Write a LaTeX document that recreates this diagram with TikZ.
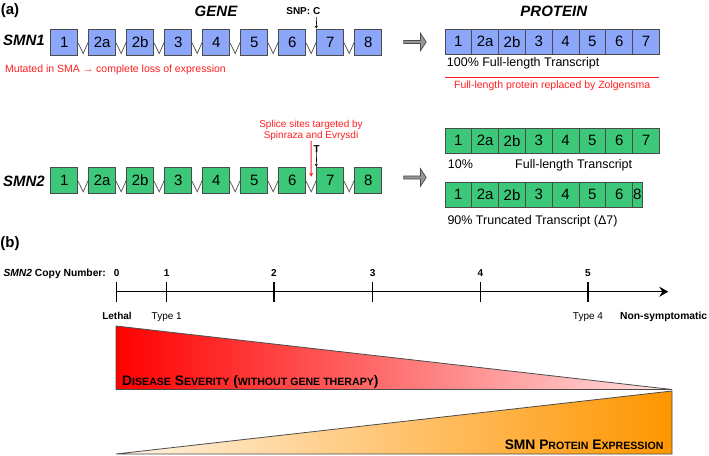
\documentclass[tikz,border=0pt]{standalone}
\usepackage{fontspec}
\setmainfont{Liberation Sans}
\usepackage{xcolor}
\definecolor{exonblue}{RGB}{140,166,250}
\definecolor{exongreen}{RGB}{60,200,120}
\definecolor{edgegray}{RGB}{75,75,75}
\definecolor{notered}{RGB}{255,30,30}
\definecolor{arrowgray}{RGB}{150,150,150}
\definecolor{sevred}{RGB}{255,0,0}
\definecolor{sevpale}{RGB}{255,228,228}
\definecolor{exporange}{RGB}{255,150,0}
\definecolor{exppale}{RGB}{255,243,228}
\usepackage{tikz}
\usetikzlibrary{shapes,arrows,arrows.meta,positioning,calc}
\newcommand{\fakesc}[2]{{\fontsize{13.8}{15}\selectfont #1}{\fontsize{10.6}{12}\selectfont #2}}

\begin{document}
\begin{tikzpicture}[
    x=1pt, y=-1pt,
    exon/.style={rectangle, draw=edgegray, line width=0.8pt, minimum width=27pt, minimum height=26pt, inner sep=0pt, font=\fontsize{15}{18}\selectfont},
    prot/.style={rectangle, draw=edgegray, line width=0.8pt, minimum width=26.8pt, minimum height=25.5pt, inner sep=0pt, outer sep=0pt, font=\fontsize{15}{18}\selectfont},
    intron/.style={draw=edgegray, line width=0.7pt},
    blockarrow/.style={single arrow, draw=edgegray, fill=arrowgray, line width=0.7pt, minimum width=17.7pt, minimum height=22.4pt, single arrow head extend=1.7pt, single arrow tip angle=114, inner sep=0pt},
    genelabel/.style={font=\bfseries\itshape\fontsize{15}{18}\selectfont},
    note/.style={text=notered, font=\fontsize{10.5}{12}\selectfont, inner sep=0pt},
    caption/.style={font=\fontsize{12.5}{15}\selectfont, inner sep=0pt, anchor=base west},
    pin/.style={-{Stealth[length=3pt,width=3pt]}, line width=0.6pt},
    redpin/.style={-{Stealth[length=4pt,width=4pt]}, line width=1pt, draw=notered},
    axis/.style={-{Stealth[length=9pt,width=10pt,inset=3pt]}, line width=1.3pt},
    axistick/.style={line width=1.3pt},
    cnum/.style={font=\bfseries\fontsize{10}{12}\selectfont, inner sep=0pt, anchor=base},
    scale label/.style={font=\fontsize{10}{12}\selectfont, inner sep=0pt, anchor=base},
    tri/.style={draw=edgegray, line width=0.8pt}
]
\useasboundingbox (0,0) rectangle (709,455);

% (a) gene and protein
\node[font=\bfseries\fontsize{15}{18}\selectfont] (tagA) at (10,11) {(a)};
\node[genelabel] (gene) at (216,11) {GENE};
\node[genelabel] (protein) at (553.8,11) {PROTEIN};

\node[genelabel] (smn1) at (24,40) {SMN1};
\node[genelabel] (smn2) at (24,181) {SMN2};

% exons a1..a9 / b1..b9 (exon 7 is number 8)
\foreach \lbl [count=\i] in {1,2a,2b,3,4,5,6,7,8} {
  \node[exon, fill=exonblue] (a\i) at ({64.2+38*(\i-1)}, 42) {\lbl};
  \node[exon, fill=exongreen] (b\i) at ({64.2+38*(\i-1)}, 180.3) {\lbl};
}
\foreach \i [count=\j from 2] in {1,...,8} {
  \draw[intron] ($(a\i.east)+(0,1)$) -- ($(a\i.east)!.5!(a\j.west)+(0,11.5)$) -- (a\j.west);
  \draw[intron] ($(b\i.east)+(0,1)$) -- ($(b\i.east)!.5!(b\j.west)+(0,11.5)$) -- (b\j.west);
}

\node[font=\bfseries\fontsize{10}{12}\selectfont, inner sep=0pt, anchor=base] (snp) at (303.3,14) {SNP: C};
\coordinate (snpc) at (316.7,17);
\draw[pin] (snpc) -- (a8.north west);
\node[note, anchor=base west] (lossnote) at (5,72.5) {Mutated in SMA → complete loss of expression};

\node[note, align=center, font=\fontsize{10}{11}\selectfont, anchor=south] (splice) at (311,140.6) {Splice sites targeted by\\Spinraza and Evrysdi};
\draw[redpin] (splice.south) -- ($(b7.east)!.5!(b8.west)+(0,-3.6)$);
\node[font=\bfseries\fontsize{10}{12}\selectfont, inner sep=0pt, anchor=base] (tnt) at (316.7,152) {T};
\draw[pin] (tnt.south) -- (b8.north west);

\node[blockarrow] (arr1) at (414.5,42) {};
\node[blockarrow] (arr2) at (414.5,177.5) {};

% protein rows
\node[prot, fill=exonblue] (pa1) at (458.4,41.8) {1};
\foreach \lbl [count=\i from 2, remember=\i as \k (initially 1)] in {2a,2b,3,4,5,6,7}
  \node[prot, fill=exonblue, right=0pt of pa\k] (pa\i) {\lbl};
\node[prot, fill=exongreen] (pb1) at (458.4,140.8) {1};
\foreach \lbl [count=\i from 2, remember=\i as \k (initially 1)] in {2a,2b,3,4,5,6,7}
  \node[prot, fill=exongreen, right=0pt of pb\k] (pb\i) {\lbl};
\node[prot, fill=exongreen] (pc1) at (458.4,194.7) {1};
\foreach \lbl [count=\i from 2, remember=\i as \k (initially 1)] in {2a,2b,3,4,5,6}
  \node[prot, fill=exongreen, right=0pt of pc\k] (pc\i) {\lbl};
\node[prot, fill=exongreen, minimum width=9.3pt, right=0pt of pc7] (pc8) {8};

\node[caption] (full1) at (446.7,66.5) {100\% Full-length Transcript};
\draw[notered, line width=0.8pt] (pa1.south west |- 0,77.3) coordinate (zl) -- (pa8.south east |- 0,77.3) coordinate (zr);
\node[note, anchor=base] (zolg) at ($(zl)!.5!(zr)+(0,11.5)$) {Full-length protein replaced by Zolgensma};
\node[caption] (ten) at (447.7,168.5) {10\%};
\node[caption] (full2) at (515,168.5) {Full-length Transcript};
\node[caption] (trunc) at (447.3,224) {90\% Truncated Transcript (Δ7)};

% (b) copy number scale
\node[font=\bfseries\fontsize{15}{18}\selectfont] (tagB) at (10,244) {(b)};
\node[font=\bfseries\fontsize{10.3}{12}\selectfont, inner sep=0pt, anchor=base west] (copyno) at (3.3,276) {\textit{SMN2} Copy Number:};
\coordinate (ax0) at (116.7,291.7);
\coordinate (axend) at (668.3,291.7);
\draw[axis] (ax0) -- (axend);
\foreach \x/\n in {116.7/0, 166.7/1, 274/2, 372.7/3, 480.3/4, 588/5} {
  \node[cnum] (n\n) at (\x,276) {\n};
  \draw[axistick] (\x,282) -- (\x,302);
}
\node[scale label, font=\bfseries\fontsize{10}{12}\selectfont] (lethal) at (117,319.5) {Lethal};
\node[scale label] (type1) at (166.7,319.5) {Type 1};
\node[scale label] (type4) at (588,319.5) {Type 4};
\node[scale label, font=\bfseries\fontsize{10.3}{12}\selectfont, anchor=base west] (nonsym) at (620,319.5) {Non-symptomatic};

% severity and expression wedges
\coordinate (sevtl) at (116,326);
\coordinate (sevbl) at (116,389.5);
\coordinate (sevtip) at (672,389.5);
\draw[tri, left color=sevred, right color=sevpale] (sevtl) -- (sevtip) -- (sevbl) -- cycle;
\coordinate (exptip) at (116,454);
\coordinate (exptr) at (672,391);
\coordinate (expbr) at (672,454);
\draw[tri, left color=exppale, right color=exporange] (exptip) -- (exptr) -- (expbr) -- cycle;

\node[font=\bfseries\fontsize{13.8}{15}\selectfont, inner sep=0pt, anchor=base west] (sevlabel) at (122,385.5)
  {\fakesc{D}{ISEASE} \fakesc{S}{EVERITY} (\fakesc{}{WITHOUT GENE THERAPY})};
\node[font=\bfseries\fontsize{13.8}{15}\selectfont, inner sep=0pt, anchor=base east] (explabel) at (663.6,449)
  {SMN \fakesc{P}{ROTEIN} \fakesc{E}{XPRESSION}};

\end{tikzpicture}
\end{document}
